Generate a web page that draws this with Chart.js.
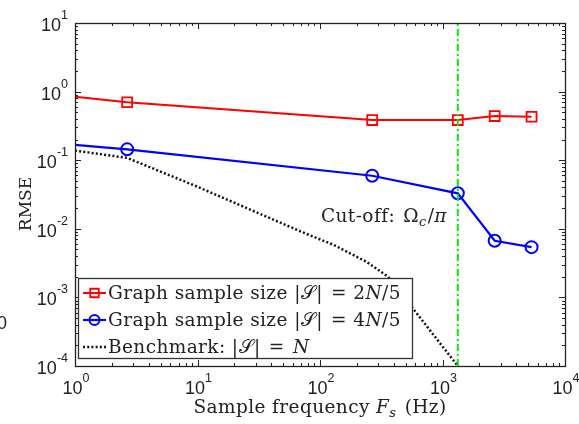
<!DOCTYPE html>
<html>
<head>
<meta charset="utf-8">
<script src="https://cdn.jsdelivr.net/npm/chart.js@4/dist/chart.umd.min.js"></script>
<style>
  html, body { margin: 0; padding: 0; background: #fff; overflow: hidden; }
  canvas { display: block; }
</style>
</head>
<body>
<canvas id="c" width="579" height="424"></canvas>
<script>
// Sample frequencies (Hz) at which the graph-sampling RMSE was measured
const sampleFreqs = [1, 8 / 3, 800 / 3, 4000 / 3, 8000 / 3, 16000 / 3];
const rmseTwoFifths = [0.84, 0.70, 0.385, 0.385, 0.44, 0.43];
const rmseFourFifths = [0.167, 0.144, 0.0594, 0.0329, 0.0067, 0.0054];

// Benchmark curve with the full vertex set
const benchFreqs = [1, 8 / 3, 10, 70, 130, 240, 360, 4000 / 3];
const rmseBenchmark = [0.138, 0.108, 0.041, 0.0091, 0.0058, 0.0033, 0.0020, 1.0e-4];

// Cut-off frequency Omega_c / pi
const cutoffFreq = 4000 / 3;

// Decade exponents of the tick labels
const xTickExps = [0, 1, 2, 3, 4];
const yTickExps = [-4, -3, -2, -1, 0, 1];

const SERIF = '"DejaVu Serif", "Liberation Serif", serif';
const SANS = '"Liberation Sans", Arial, sans-serif';
const rm = '18.5px ' + SERIF;
const it = 'italic 18.5px ' + SERIF;
const sub = 'italic 13px ' + SERIF;

const legendLabels = [
  [{ t: 'Graph sample size ', f: rm }, { t: '|𝒮| ', f: rm }, { t: '= 2', f: rm, pre: 2 }, { t: 'N', f: it }, { t: '/5', f: rm }],
  [{ t: 'Graph sample size ', f: rm }, { t: '|𝒮| ', f: rm }, { t: '= 4', f: rm, pre: 2 }, { t: 'N', f: it }, { t: '/5', f: rm }],
  [{ t: 'Benchmark: ', f: rm }, { t: '|𝒮| ', f: rm }, { t: '= ', f: rm, pre: 2 }, { t: 'N', f: it, pre: 2 }]
];
const xTitle = [{ t: 'Sample frequency ', f: rm }, { t: 'F', f: it }, { t: 's', f: sub, dy: 4 }, { t: ' (Hz)', f: rm, pre: 2 }];
const cutoffText = [{ t: 'Cut-off: ', f: rm }, { t: 'Ω', f: rm, pre: 2 }, { t: 'c', f: sub, dy: 4 }, { t: '/', f: rm, pre: 1 }, { t: 'π', f: it }];

const RED = '#ff0000', BLUE = '#0000ff', GREEN = '#00ee00', INK = '#222222';

const pts = (xs, ys) => xs.map((x, i) => ({ x, y: ys[i] }));

// Draws a run of text pieces in different fonts, one after the other
function rich(ctx, parts, x, y, align, spacing) {
  ctx.letterSpacing = (spacing || 0) + 'px';
  let w = 0;
  parts.forEach(p => { ctx.font = p.f; p.w = ctx.measureText(p.t).width; w += p.w + (p.pre || 0); });
  let cx = align === 'center' ? x - w / 2 : align === 'right' ? x - w : x;
  parts.forEach(p => {
    cx += p.pre || 0;
    ctx.font = p.f;
    ctx.fillText(p.t, cx, y + (p.dy || 0));
    cx += p.w;
  });
  ctx.letterSpacing = '0px';
  return w;
}

function power(exp) {
  return [{ t: '10', f: '18px ' + SANS }, { t: String(exp), f: '12.5px ' + SANS, dy: -12 }];
}

const axesPlugin = {
  id: 'axesDecor',
  afterDatasetsDraw(chart) {
    const { ctx, chartArea: a, scales: { x, y } } = chart;
    ctx.save();
    ctx.strokeStyle = INK;
    ctx.fillStyle = INK;
    ctx.lineWidth = 1;

    // inward major/minor ticks on all four sides
    ctx.beginPath();
    for (let k = xTickExps[0]; k <= xTickExps[xTickExps.length - 1]; k++) {
      for (let m = 1; m <= 9; m++) {
        const v = m * Math.pow(10, k);
        if (v > x.max) break;
        const px = Math.round(x.getPixelForValue(v)) + 0.5;
        const len = m === 1 ? 6 : 3;
        ctx.moveTo(px, a.bottom); ctx.lineTo(px, a.bottom - len);
        ctx.moveTo(px, a.top); ctx.lineTo(px, a.top + len);
      }
    }
    for (let k = yTickExps[0]; k <= yTickExps[yTickExps.length - 1]; k++) {
      for (let m = 1; m <= 9; m++) {
        const v = m * Math.pow(10, k);
        if (v > y.max * 1.0001) break;
        const py = Math.round(y.getPixelForValue(v)) + 0.5;
        const len = m === 1 ? 6 : 3;
        ctx.moveTo(a.left, py); ctx.lineTo(a.left + len, py);
        ctx.moveTo(a.right, py); ctx.lineTo(a.right - len, py);
      }
    }
    ctx.stroke();

    // axes box
    ctx.lineWidth = 1.3;
    ctx.strokeRect(Math.round(a.left) + 0.5, Math.round(a.top) + 0.5,
                   Math.round(a.width), Math.round(a.height));

    // tick labels
    ctx.textBaseline = 'alphabetic';
    xTickExps.forEach(e => {
      rich(ctx, power(e), x.getPixelForValue(Math.pow(10, e)) + 1, a.bottom + 28, 'center');
    });
    yTickExps.forEach(e => {
      rich(ctx, power(e), a.left - 7, y.getPixelForValue(Math.pow(10, e)) + 8, 'right');
    });

    // axis titles
    rich(ctx, xTitle, 320, 413, 'center', 0.4);
    ctx.save();
    ctx.translate(31, 204);
    ctx.rotate(-Math.PI / 2);
    rich(ctx, [{ t: 'RMSE', f: '17px ' + SERIF }], 0, 0, 'center');
    ctx.restore();

    // cut-off annotation
    rich(ctx, cutoffText, 321, 222, 'left', 0.4);

    // legend
    const lx = a.left + 3, ly = a.bottom - 88, lw = 334, lh = 80;
    ctx.fillStyle = '#fff';
    ctx.fillRect(lx, ly, lw, lh);
    ctx.lineWidth = 1.3;
    ctx.strokeStyle = '#333';
    ctx.strokeRect(lx + 0.5, ly + 0.5, lw, lh);
    const ds = chart.data.datasets;
    legendLabels.forEach((parts, i) => {
      const d = ds[i];
      const cy = ly + 15 + i * 27;
      ctx.save();
      ctx.strokeStyle = d.borderColor;
      ctx.fillStyle = 'rgba(0,0,0,0)';
      ctx.lineWidth = d.borderWidth;
      ctx.setLineDash(d.borderDash || []);
      ctx.beginPath();
      ctx.moveTo(lx + 5, cy); ctx.lineTo(lx + 28, cy);
      ctx.stroke();
      ctx.setLineDash([]);
      if (d.legendRadius) {
        ctx.lineWidth = d.pointBorderWidth;
        Chart.helpers.drawPoint(ctx, {
          pointStyle: d.pointStyle, radius: d.legendRadius, borderWidth: d.pointBorderWidth
        }, lx + 16.5, cy);
      }
      ctx.restore();
      ctx.fillStyle = INK;
      rich(ctx, parts, lx + 30, cy + 6, 'left', 0.4);
    });

    // edge fragment of neighbouring label
    ctx.fillStyle = INK;
    ctx.font = '18px ' + SANS;
    ctx.fillText('0', -3, 329);

    ctx.restore();
  }
};

const noMarkAtEdge = (r) => (c) => (c.raw && c.raw.x <= 1 ? 0 : r);

new Chart(document.getElementById('c'), {
  type: 'scatter',
  data: {
    datasets: [
      {
        label: 'Graph sample size |S| = 2N/5',
        data: pts(sampleFreqs, rmseTwoFifths),
        showLine: true,
        borderColor: RED,
        backgroundColor: 'transparent',
        borderWidth: 2,
        pointStyle: 'rect',
        pointRadius: noMarkAtEdge(7),
        legendRadius: 6,
        pointBorderWidth: 1.8,
        pointBorderColor: RED,
        order: 2
      },
      {
        label: 'Graph sample size |S| = 4N/5',
        data: pts(sampleFreqs, rmseFourFifths),
        showLine: true,
        borderColor: BLUE,
        backgroundColor: 'transparent',
        borderWidth: 2.2,
        pointStyle: 'circle',
        pointRadius: noMarkAtEdge(6),
        legendRadius: 5,
        pointBorderWidth: 2,
        pointBorderColor: BLUE,
        order: 3
      },
      {
        label: 'Benchmark: |S| = N',
        data: pts(benchFreqs, rmseBenchmark),
        showLine: true,
        borderColor: '#111',
        borderWidth: 2.5,
        borderDash: [2, 2.2],
        pointRadius: 0,
        order: 4
      },
      {
        label: 'Cut-off',
        data: [{ x: cutoffFreq, y: 1e-4 }, { x: cutoffFreq, y: 10 }],
        showLine: true,
        borderColor: GREEN,
        borderWidth: 2,
        borderDash: [7, 3, 2, 3],
        pointRadius: 0,
        order: 1
      }
    ]
  },
  options: {
    responsive: false,
    animation: false,
    devicePixelRatio: 1,
    layout: { padding: { left: 75, right: 14, top: 23, bottom: 58 } },
    plugins: { legend: { display: false }, tooltip: { enabled: false } },
    scales: {
      x: { type: 'logarithmic', min: 1, max: 10000, display: false },
      y: { type: 'logarithmic', min: 1e-4, max: 10, display: false }
    }
  },
  plugins: [axesPlugin]
});
</script>
</body>
</html>
